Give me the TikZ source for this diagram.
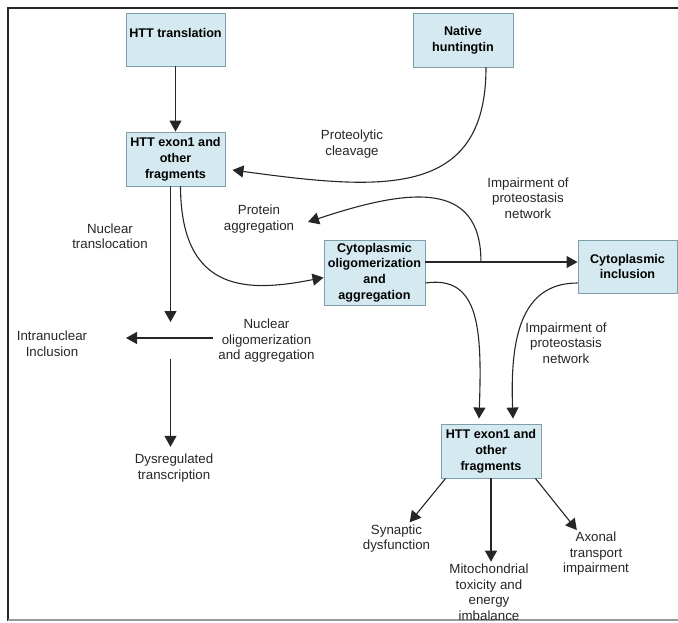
\documentclass[tikz,border=0pt]{standalone}
\usepackage{fontspec}
\setmainfont{Liberation Sans}
\usepackage{xcolor}
\usetikzlibrary{arrows.meta, calc}

\definecolor{boxfill}{HTML}{D5E9F0}
\definecolor{boxline}{HTML}{7D9FAC}

\begin{document}
\begin{tikzpicture}[x=1pt, y=-1pt,
  font=\fontsize{13.3}{15.5}\selectfont,
  box/.style={draw=boxline, fill=boxfill, line width=0.9pt, align=center,
    inner sep=2pt, font=\fontsize{12.6}{15.8}\selectfont\bfseries},
  lbl/.style={align=center, inner sep=2pt, text=black!85},
  arr/.style={-{Triangle[length=11pt,width=12pt]}, line width=1.1pt, draw=black!85}]
  \useasboundingbox (0,0) rectangle (678,622);
  % frame (open on the right)
  \draw[line width=2pt, black!85] (678,8) -- (8,8) -- (8,621);
  \draw[line width=1.5pt, black!40] (8,620) -- (678,620);

  % boxes
  \node[box, minimum width=99pt, minimum height=53pt, text height=9pt, text depth=13pt]
    (trans) at (175.5,39.5) {HTT translation};
  \node[box, minimum width=100pt, minimum height=54pt] (native) at (463,40) {Native\\huntingtin};
  \node[box, minimum width=99pt, minimum height=54pt] (frag1) at (175.5,159) {HTT exon1 and\\other\\fragments};
  \node[box, minimum width=101pt, minimum height=65pt] (cyto) at (374.5,272.5)
    {Cytoplasmic\\oligomerization\\and\\aggregation};
  \node[box, minimum width=99pt, minimum height=53pt] (incl) at (627.5,266.5) {Cytoplasmic\\inclusion};
  \node[box, minimum width=100pt, minimum height=54pt] (frag2) at (491,451) {HTT exon1 and\\other\\fragments};

  % plain labels
  \node[lbl] (cleav)    at (352,144)   {Proteolytic\\cleavage};
  \node[lbl] (transloc) at (110,236)   {Nuclear\\translocation};
  \node[lbl] (aggr)     at (259,219)   {Protein\\aggregation};
  \node[lbl] (impair1)  at (528,198)   {Impairment of\\proteostasis\\network};
  \node[lbl] (impair2)  at (566,343)   {Impairment of\\proteostasis\\network};
  \node[lbl] (intranuc) at (52,343.5)  {Intranuclear\\Inclusion};
  \node[lbl] (nucolig)  at (266.5,341) {Nuclear\\oligomerization\\and aggregation};
  \node[lbl] (dysreg)   at (174,468)   {Dysregulated\\transcription};
  \node[lbl] (synap)    at (396.5,538.5) {Synaptic\\dysfunction};
  \node[lbl] (mito)     at (489,592)   {Mitochondrial\\toxicity and\\energy\\imbalance};
  \node[lbl] (axon)     at (596,554)   {Axonal\\transport\\impairment};

  % free ends in the nucleus
  \coordinate (nucin)  at (170.5,322);
  \coordinate (nucr)   at (213,338);
  \coordinate (nucl)   at (126,338);
  \coordinate (nucdn)  at (170.5,359);
  \coordinate (hl)     at ([yshift=10.5pt]cyto.east);
  \coordinate (lp)     at ($(hl)+(55.5,0)$);
  \coordinate (aggtip) at (308,222);

  % top part
  \draw[arr] (trans.south) -- (frag1.north);
  \draw[arr] ([xshift=23pt]native.south) .. controls (486,200) and (380,190) .. ($(frag1.east)+(7,11)$);
  \draw[arr] ([xshift=-5pt]frag1.south) -- (nucin);
  \draw[arr] ([xshift=5pt]frag1.south) .. controls (181,295) and (250,292) .. ($(cyto.west)+(0,5)$);

  % cytoplasm
  \draw[arr] (hl) -- (hl -| incl.west);
  \draw[arr] (lp) .. controls (481,180) and (410,188) .. (aggtip);
  \draw[arr] ([yshift=-10.5pt]cyto.east) .. controls (480,275) and (482,330) .. ($(frag2.north)+(-12,-5)$);
  \draw[arr] ([yshift=-16.5pt]incl.west) .. controls (520,283) and (510,340) .. ($(frag2.north)+(22,-5)$);

  % nucleus
  \draw[arr] (nucr) -- (nucl);
  \draw[arr, shorten >=5pt] (nucdn) -- (nucdn |- dysreg.north);

  % outcomes
  \draw[arr] ([xshift=5pt]frag2.south west) -- (synap);
  \draw[arr] (frag2.south) -- (frag2.south |- mito.north);
  \draw[arr] ([xshift=-6pt]frag2.south east) -- (axon);
\end{tikzpicture}
\end{document}
